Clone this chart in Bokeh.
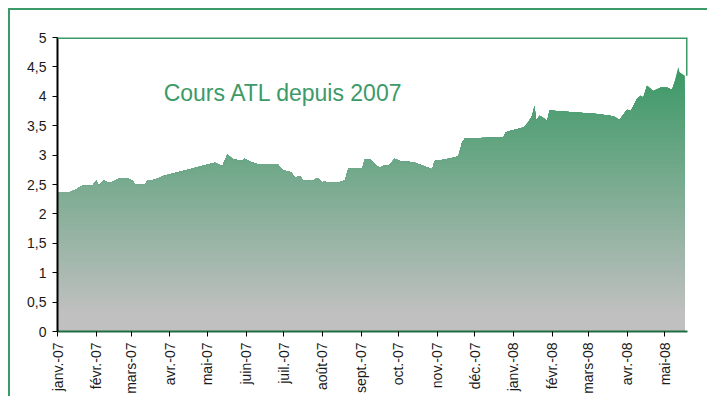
import numpy as np
import pandas as pd
from bokeh.plotting import figure
from bokeh.models import FixedTicker, Span, Label
from bokeh.embed import file_html
from bokeh.resources import INLINE

# ---- data ----
dates = [
    "2007-01-01", "2007-01-11", "2007-01-16", "2007-01-21", "2007-01-29", "2007-02-01",
    "2007-02-03", "2007-02-07", "2007-02-11", "2007-02-15", "2007-02-19", "2007-02-26",
    "2007-03-02", "2007-03-04", "2007-03-12", "2007-03-14", "2007-03-20", "2007-03-26",
    "2007-05-07", "2007-05-13", "2007-05-17", "2007-05-21", "2007-05-28", "2007-05-31",
    "2007-06-05", "2007-06-10", "2007-06-26", "2007-07-01", "2007-07-07", "2007-07-10",
    "2007-07-14", "2007-07-17", "2007-07-24", "2007-07-28", "2007-08-01", "2007-08-03",
    "2007-08-05", "2007-08-13", "2007-08-19", "2007-08-22", "2007-09-02", "2007-09-04",
    "2007-09-09", "2007-09-11", "2007-09-16", "2007-09-19", "2007-09-23", "2007-09-28",
    "2007-10-02", "2007-10-13", "2007-10-28", "2007-10-30", "2007-11-06", "2007-11-13",
    "2007-11-18", "2007-11-21", "2007-11-23", "2007-12-05", "2007-12-24", "2007-12-26",
    "2008-01-02", "2008-01-09", "2008-01-13", "2008-01-16", "2008-01-18", "2008-01-19",
    "2008-01-22", "2008-01-26", "2008-01-28", "2008-01-30", "2008-03-08", "2008-03-11",
    "2008-03-21", "2008-03-26", "2008-04-01", "2008-04-04", "2008-04-09", "2008-04-12",
    "2008-04-14", "2008-04-17", "2008-04-22", "2008-04-28", "2008-05-03", "2008-05-07",
    "2008-05-09", "2008-05-12", "2008-05-13", "2008-05-17",
]
values = [
    2.37, 2.37, 2.42, 2.48, 2.48, 2.57,
    2.48, 2.57, 2.53, 2.55, 2.60, 2.60,
    2.57, 2.50, 2.50, 2.57, 2.58, 2.64,
    2.87, 2.81, 3.01, 2.94, 2.90, 2.94,
    2.88, 2.85, 2.85, 2.74, 2.71, 2.62,
    2.64, 2.57, 2.56, 2.61, 2.54, 2.56,
    2.53, 2.53, 2.57, 2.77, 2.77, 2.92,
    2.92, 2.86, 2.78, 2.82, 2.82, 2.94,
    2.90, 2.88, 2.76, 2.90, 2.92, 2.95,
    2.98, 3.22, 3.28, 3.29, 3.30, 3.39,
    3.43, 3.47, 3.56, 3.67, 3.84, 3.59,
    3.67, 3.62, 3.58, 3.76, 3.70, 3.69,
    3.66, 3.60, 3.77, 3.75, 3.96, 4.01,
    3.98, 4.18, 4.09, 4.15, 4.15, 4.11,
    4.24, 4.50, 4.41, 4.35,
]
month_ticks = [
    "2007-01-01", "2007-02-01", "2007-03-01", "2007-04-01", "2007-05-01", "2007-06-01",
    "2007-07-01", "2007-08-01", "2007-09-01", "2007-10-01", "2007-11-01", "2007-12-01",
    "2008-01-01", "2008-02-01", "2008-03-01", "2008-04-01", "2008-05-01",
]
month_labels = [
    "janv.-07", "févr.-07", "mars-07", "avr.-07", "mai-07", "juin-07",
    "juil.-07", "août-07", "sept.-07", "oct.-07", "nov.-07", "déc.-07",
    "janv.-08", "févr.-08", "mars-08", "avr.-08", "mai-08",
]
y_ticks = [0, 0.5, 1, 1.5, 2, 2.5, 3, 3.5, 4, 4.5, 5]
y_labels = ["0", "0,5", "1", "1,5", "2", "2,5", "3", "3,5", "4", "4,5", "5"]
title_text = "Cours ATL depuis 2007"

# ---- conversion to day numbers ----
origin = pd.Timestamp("2007-01-01")
xd = np.array((pd.to_datetime(dates) - origin).days, dtype=float)
tick_days = [int((pd.Timestamp(d) - origin).days) for d in month_ticks]
vals = np.array(values)
x_end = float((pd.Timestamp("2008-05-19") - origin).days) + 0.4

GREEN = "#3c9a68"
FONT = "Liberation Sans"

p = figure(frame_width=630, frame_height=294, output_backend="svg", toolbar_location=None,
           x_range=(0, x_end), y_range=(0, 5),
           min_border_left=47, min_border_top=27, min_border_right=20, min_border_bottom=64)
p.outline_line_color = None
p.grid.visible = False
p.background_fill_color = "white"
p.border_fill_color = "white"
p.styles = {"border-left": "2px solid " + GREEN, "border-top": "2px solid " + GREEN,
            "margin-left": "8px", "margin-top": "8px"}

# ---- gradient-filled area (stacked bands) ----
top_c = np.array([58, 152, 101], dtype=float)
bot_c = np.array([192, 192, 192], dtype=float)
n = 60
gmax = vals.max()
g0 = 0.3
levels = np.linspace(0, gmax, n + 1)[1:]
step = gmax / n
for k in reversed(range(n)):
    hi = levels[k]
    mid = hi - step / 2
    f = min(max((mid - g0) / (gmax - g0), 0.0), 1.0)
    c = bot_c + f * (top_c - bot_c)
    col = "#%02x%02x%02x" % tuple(int(round(v)) for v in c)
    p.varea(x=xd, y1=np.zeros_like(vals), y2=np.minimum(vals, hi), fill_color=col)

# plot-area frame pieces (top and right, green)
p.add_layout(Span(location=5, dimension="width", line_color=GREEN, line_width=3))
p.segment(x0=[x_end], y0=[vals[-1]], x1=[x_end], y1=[5], line_color=GREEN, line_width=3)

# ---- title inside the plot ----
p.add_layout(Label(x=85, y=4.06, text=title_text, text_font=FONT, text_font_size="23px",
                   text_color=GREEN, text_baseline="alphabetic"))

# ---- axes ----
p.xaxis.ticker = FixedTicker(ticks=tick_days)
p.xaxis.major_label_overrides = {d: l for d, l in zip(tick_days, month_labels)}
p.xaxis.major_label_orientation = np.pi / 2
p.yaxis.ticker = FixedTicker(ticks=y_ticks)
p.yaxis.major_label_overrides = {t: l for t, l in zip(y_ticks, y_labels)}

for ax in (p.xaxis, p.yaxis):
    ax.major_tick_in = 0
    ax.major_tick_out = 5
    ax.minor_tick_line_color = None
    ax.major_tick_line_color = "black"
    ax.major_label_text_font = FONT
    ax.major_label_text_font_size = "14px"
    ax.major_label_text_color = "#1a1a1a"
    ax.major_label_standoff = 6
    ax.axis_line_width = 2

p.yaxis.axis_line_color = "black"
p.xaxis.axis_line_color = "#1f6e42"

open("out.html", "w").write(file_html(p, INLINE))
